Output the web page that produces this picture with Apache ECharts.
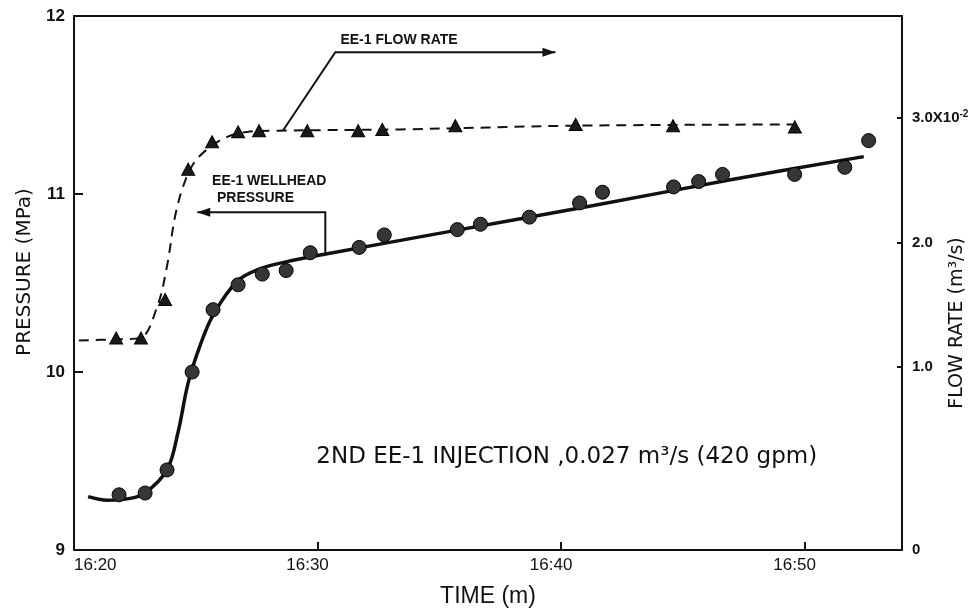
<!DOCTYPE html>
<html>
<head>
<meta charset="utf-8">
<script src="https://cdn.jsdelivr.net/npm/echarts@6/dist/echarts.min.js"></script>
<style>
  html, body { margin: 0; padding: 0; background: #fff; }
  #chart { width: 978px; height: 611px; }
</style>
</head>
<body>
<div id="chart"></div>
<script>
// time is minutes after 16:20, pressure in MPa, flow in 1e-2 m3/s
const pressureTime = [1.85, 2.92, 3.82, 4.85, 5.71, 6.74, 7.73, 8.71, 9.70, 11.71, 12.74,
    15.74, 16.69, 18.70, 20.76, 21.70, 24.62, 25.65, 26.63, 29.59, 31.65, 32.63];
const pressureVal = [9.31, 9.32, 9.45, 10.00, 10.35, 10.49, 10.55, 10.57, 10.67, 10.70, 10.77,
    10.80, 10.83, 10.87, 10.95, 11.01, 11.04, 11.07, 11.11, 11.11, 11.15, 11.30];

const pressureFitTime = [0.58, 1.36, 2.3, 2.92, 3.82, 4.27, 4.69, 5.18, 5.71, 6.70, 7.64, 8.75,
    10.23, 15.45, 21.33, 26.96, 32.43];
const pressureFitVal = [9.30, 9.28, 9.29, 9.32, 9.45, 9.66, 9.94, 10.15, 10.32, 10.51, 10.58, 10.62,
    10.66, 10.79, 10.935, 11.08, 11.21];

const flowTime = [1.73, 2.75, 3.74, 4.69, 5.67, 6.74, 7.60, 9.58, 11.67, 12.66, 15.66,
    20.6, 24.6, 29.6];
const flowVal = [1.23, 1.23, 1.54, 2.59, 2.81, 2.89, 2.90, 2.90, 2.90, 2.91, 2.94,
    2.95, 2.94, 2.93];

const flowFitTime = [0.2, 1.69, 2.71, 3.41, 3.82, 4.15, 4.48, 4.89, 5.47, 6.29, 7.11,
    8.34, 13.4, 20.6, 29.84];
const flowFitVal = [1.21, 1.22, 1.23, 1.48, 1.81, 2.21, 2.45, 2.63, 2.75, 2.85, 2.89,
    2.90, 2.91, 2.94, 2.95];

const timeTicks = ['16:20', '16:30', '16:40', '16:50'];
const flowTicks = [1, 2, 3];
const FLOW_MIN = -0.476;
const FLOW_MAX = 3.823;

// annotation anchors, in (time, pressure)
const flowNotePath = [[8.59, 11.358], [10.73, 11.797], [19.77, 11.797]];
const pressNotePath = [[10.32, 10.666], [10.32, 10.897], [5.06, 10.897]];
const flowNoteText = [10.94, 11.865];
const pressNoteText = [[5.67, 11.071], [5.87, 10.975]];
const injectionText = [9.95, 9.52];

const FONT = '"Liberation Sans", Arial, sans-serif';
const WIDE = '"DejaVu Sans", "Liberation Sans", sans-serif';
const INK = '#111';

const zip = (xs, ys) => xs.map((x, i) => [x, ys[i]]);

const chart = echarts.init(document.getElementById('chart'), null, { renderer: 'canvas' });

chart.setOption({
    animation: false,
    backgroundColor: '#fff',
    grid: {
        left: 74, right: 76, top: 16, bottom: 61,
        outerBoundsMode: 'none', containLabel: false,
        show: true, borderColor: INK, borderWidth: 2, backgroundColor: 'transparent'
    },
    xAxis: {
        type: 'value', min: 0, max: 34, interval: 10,
        name: 'TIME (m)', nameLocation: 'middle', nameGap: 35,
        nameTextStyle: { fontFamily: FONT, fontSize: 23, color: INK },
        axisLine: { show: true, onZero: false, lineStyle: { color: INK, width: 2 } },
        axisTick: { show: true, inside: true, length: 8, lineStyle: { color: INK, width: 2 } },
        axisLabel: {
            fontFamily: FONT, fontSize: 17, color: INK, margin: 7,
            padding: [0, 20, 0, 0],
            showMaxLabel: false, alignMinLabel: 'left',
            formatter: v => timeTicks[Math.round(v / 10)] || ''
        },
        splitLine: { show: false }
    },
    yAxis: [{
        type: 'value', min: 9, max: 12, interval: 1,
        name: 'PRESSURE (MPa)', nameLocation: 'middle', nameGap: 39, nameRotate: 90,
        nameMoveOverlap: false,
        nameTextStyle: { fontFamily: WIDE, fontSize: 20, color: INK, padding: [0, 0, 0, 22] },
        axisLine: { show: true, lineStyle: { color: INK, width: 2 } },
        axisTick: { show: true, inside: true, length: 9, lineStyle: { color: INK, width: 2 } },
        axisLabel: { fontFamily: FONT, fontSize: 17, fontWeight: 'bold', color: INK, margin: 9 },
        splitLine: { show: false }
    }, {
        type: 'value', position: 'right', min: FLOW_MIN, max: FLOW_MAX,
        name: 'FLOW RATE (m³/s)', nameLocation: 'middle', nameGap: 46, nameRotate: 90,
        nameMoveOverlap: false,
        nameTextStyle: { fontFamily: WIDE, fontSize: 19, color: INK, padding: [0, 80, 0, 0] },
        axisLine: { show: true, lineStyle: { color: INK, width: 2 } },
        axisTick: {
            show: true, inside: true, length: 5, customValues: flowTicks,
            lineStyle: { color: INK, width: 2 }
        },
        axisLabel: {
            customValues: [FLOW_MIN].concat(flowTicks),
            fontFamily: FONT, fontSize: 15, fontWeight: 'bold', color: INK, margin: 10,
            formatter: v => {
                if (v < 0) return '0';
                if (v === 3) return '3.0X10{sup|-2}';
                return v.toFixed(1);
            },
            rich: {
                sup: { fontFamily: FONT, fontSize: 10, fontWeight: 'bold', color: INK, verticalAlign: 'top', padding: [0, 0, 8, 0] }
            }
        },
        splitLine: { show: false }
    }],
    series: [{
        name: 'pressure fit', type: 'line', yAxisIndex: 0,
        data: zip(pressureFitTime, pressureFitVal),
        smooth: 0.35, showSymbol: false, symbol: 'none',
        lineStyle: { color: INK, width: 3.5 }, z: 2
    }, {
        name: 'pressure', type: 'scatter', yAxisIndex: 0,
        data: zip(pressureTime, pressureVal),
        symbol: 'circle', symbolSize: 14,
        itemStyle: { color: '#363636', borderColor: '#000', borderWidth: 1, opacity: 1 }, z: 3
    }, {
        name: 'flow fit', type: 'line', yAxisIndex: 1,
        data: zip(flowFitTime, flowFitVal),
        smooth: 0.35, showSymbol: false, symbol: 'none',
        lineStyle: { color: INK, width: 2, type: [10, 7] }, z: 2
    }, {
        name: 'flow', type: 'scatter', yAxisIndex: 1,
        data: zip(flowTime, flowVal),
        symbol: 'triangle', symbolSize: [13, 12],
        itemStyle: { color: '#1a1a1a', borderColor: '#000', borderWidth: 1, opacity: 1 }, z: 3
    }]
});

// annotations are placed from data coordinates once the axes exist
const px = p => chart.convertToPixel({ xAxisIndex: 0, yAxisIndex: 0 }, p);

function arrowHead(tip, dir) {
    const [x, y] = tip;
    const d = dir === 'right' ? -1 : 1;
    return {
        type: 'polygon',
        shape: { points: [[x, y], [x + d * 13, y - 4.5], [x + d * 13, y + 4.5]] },
        style: { fill: INK }
    };
}

function noteText(pos, text, font) {
    const [x, y] = px(pos);
    return {
        type: 'text', x: x, y: y,
        style: { text: text, fill: INK, font: font, textAlign: 'left', textVerticalAlign: 'middle' }
    };
}

const flowPts = flowNotePath.map(px);
const pressPts = pressNotePath.map(px);

chart.setOption({
    graphic: [
        { type: 'polyline', shape: { points: flowPts }, style: { stroke: INK, lineWidth: 2, fill: null } },
        arrowHead(flowPts[flowPts.length - 1], 'right'),
        { type: 'polyline', shape: { points: pressPts }, style: { stroke: INK, lineWidth: 2, fill: null } },
        arrowHead(pressPts[pressPts.length - 1], 'left'),
        noteText(flowNoteText, 'EE-1 FLOW RATE', `bold 14px ${FONT}`),
        noteText(pressNoteText[0], 'EE-1 WELLHEAD', `bold 14px ${FONT}`),
        noteText(pressNoteText[1], 'PRESSURE', `bold 14px ${FONT}`),
        noteText(injectionText, '2ND EE-1 INJECTION ,0.027 m³/s (420 gpm)', `23px ${WIDE}`)
    ]
});
</script>
</body>
</html>
